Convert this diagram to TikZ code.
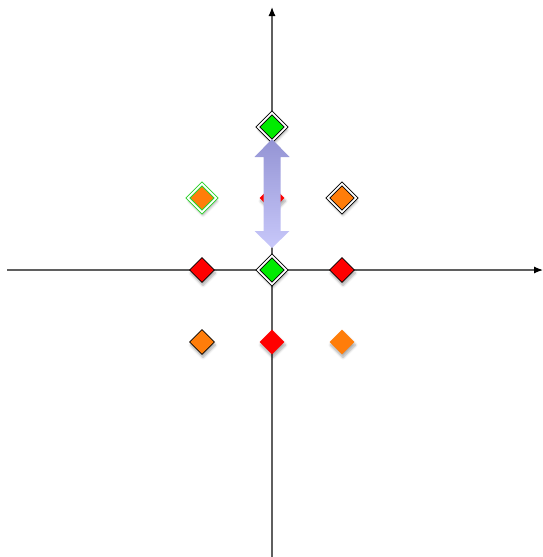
\documentclass[tikz,border=0pt]{standalone}
\usetikzlibrary{shapes.geometric,shadows.blur,arrows.meta}
\definecolor{axisgray}{RGB}{95,95,95}
\definecolor{dgreen}{RGB}{0,235,0}
\definecolor{dred}{RGB}{255,0,0}
\definecolor{dorange}{RGB}{255,125,10}
\definecolor{arrtop}{RGB}{148,148,212}
\definecolor{arrbot}{RGB}{200,200,250}
\definecolor{ringgreen}{RGB}{40,210,40}
\tikzset{
  gem/.style={diamond,aspect=1,inner sep=0pt,minimum size=25pt,
    blur shadow={shadow xshift=1pt,shadow yshift=-3pt,shadow opacity=35,shadow blur steps=6,shadow blur radius=2.5pt}},
  plain/.style={gem,draw=black,line width=0.7pt},
  bare/.style={gem},
  ringed/.style={gem,minimum size=28.5pt,draw=black,line width=0.85pt,double=white,double distance=1.8pt},
  axisline/.style={draw=axisgray,line width=1.2pt,-{Latex[black,length=9pt,width=7pt]}}
}
\begin{document}
\begin{tikzpicture}[x=1pt,y=-1pt]
\useasboundingbox (0,0) rectangle (543,557);
\coordinate (xl) at (7,270);
\coordinate (xr) at (543,270);
\coordinate (yb) at (272,557);
\coordinate (yt) at (272,7);
\draw[axisline] (xl) -- (xr);
\draw[axisline] (yb) -- (yt);
% row y=342
\node[plain,fill=dorange] (o1) at (202,342) {};
\node[bare,fill=dred] (r1) at (272,342) {};
\node[bare,fill=dorange] (o2) at (342,342) {};
% row y=270
\node[plain,fill=dred] (r2) at (202,270) {};
\node[ringed,fill=dgreen] (g1) at (272,270) {};
\node[plain,fill=dred] (r3) at (342,270) {};
% row y=198
\node[ringed,draw=ringgreen,line width=1pt,fill=dorange] (o3) at (202,198) {};
\node[bare,fill=dred] (r4) at (272,198) {};
\node[ringed,fill=dorange] (o4) at (342,198) {};
% top
\node[ringed,fill=dgreen] (g2) at (272,127) {};
% double arrow
\shade[top color=arrtop,bottom color=arrbot]
  (272,139) -- (289.5,157) -- (280.5,157) -- (280.5,231) -- (289.5,231)
  -- (272,248) -- (254.5,231) -- (263.5,231) -- (263.5,157) -- (254.5,157) -- cycle;
\end{tikzpicture}
\end{document}
